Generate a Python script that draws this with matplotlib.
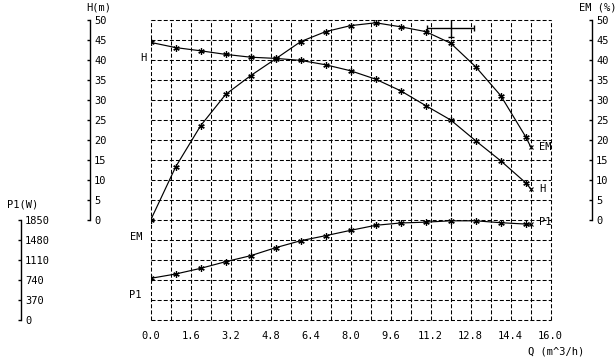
import numpy as np
import matplotlib
matplotlib.use("Agg")
import matplotlib.pyplot as plt

plt.rcParams['font.family'] = ['DejaVu Sans Mono']
plt.rcParams['font.size'] = 7.5
plt.rcParams['lines.scale_dashes'] = False

# ---- data ----
q = [0, 1, 2, 3, 4, 5, 6, 7, 8, 9, 10, 11, 12, 13, 14, 15, 15.2]
h = [44.4, 43.1, 42.3, 41.4, 40.7, 40.4, 39.9, 38.8, 37.3, 35.2, 32.3, 28.6, 25.0, 19.8, 14.8, 9.3, 7.8]
em = [0.0, 13.3, 23.6, 31.4, 36.1, 40.3, 44.6, 47.1, 48.6, 49.3, 48.3, 47.1, 44.2, 38.3, 31.1, 20.8, 18.3]
p1 = [771, 851, 956, 1079, 1190, 1338, 1467, 1560, 1659, 1752, 1795, 1810, 1835, 1835, 1800, 1775, 1770]
duty_q = [12.0]
duty_h = [48.1]
duty_qerr = [0.95]
duty_herr = [2.3]

q_ticks = [0.0, 1.6, 3.2, 4.8, 6.4, 8.0, 9.6, 11.2, 12.8, 14.4, 16.0]
h_ticks = [0, 5, 10, 15, 20, 25, 30, 35, 40, 45, 50]
em_ticks = [0, 5, 10, 15, 20, 25, 30, 35, 40, 45, 50]
p1_ticks = [0, 370, 740, 1110, 1480, 1850]

W, H = 616, 357
fig = plt.figure(figsize=(W / 100, H / 100), dpi=100)
fig.patch.set_facecolor('white')

x0, x1 = 150.7, 550.7
y0, y1 = 20, 320
ax = fig.add_axes([x0 / W, (H - y1) / H, (x1 - x0) / W, (y1 - y0) / H])
ax.set_facecolor('none')
ax.set_xlim(0, 16)
ax.set_ylim(-25, 50)
ax2 = ax.twinx()
ax3 = ax.twinx()

def px_to_axes(px):
    return (px - x0) / (x1 - x0)

# grid
dash = (0, (2.9, 1.5))
ax.vlines(np.arange(0, 16.01, 0.8), -25, 50, colors='black', linewidth=0.75,
          linestyles=[dash], zorder=1, clip_on=False)
ax.hlines(np.arange(-25, 50.01, 5), 0, 16, colors='black', linewidth=0.75,
          linestyles=[dash], zorder=1, clip_on=False)

for s in ax.spines.values():
    s.set_visible(False)

# x axis
ax.set_xticks(q_ticks)
ax.set_xticklabels([f"{v:.1f}" for v in q_ticks])
ax.tick_params(axis='x', length=0, pad=8)

# H axis (left, labels to right of line)
ax.yaxis.set_ticks_position('right')
ax.spines['right'].set_visible(True)
ax.spines['right'].set_position(('axes', px_to_axes(90)))
ax.spines['right'].set_bounds(0, 50)
ax.spines['right'].set_linewidth(1)
ax.set_yticks(h_ticks)
ax.set_yticklabels([str(v) for v in h_ticks])
ax.tick_params(axis='y', direction='in', length=2.5, width=1, pad=3,
               left=False, labelleft=False, right=True, labelright=True)

# EM axis (right)
ax2.set_facecolor('none')
ax2.set_ylim(-25, 50)
for s in ax2.spines.values():
    s.set_visible(False)
ax2.spines['right'].set_visible(True)
ax2.spines['right'].set_position(('axes', px_to_axes(592)))
ax2.spines['right'].set_bounds(0, 50)
ax2.spines['right'].set_linewidth(1)
ax2.set_yticks(em_ticks)
ax2.set_yticklabels([str(v) for v in em_ticks])
ax2.tick_params(axis='y', direction='in', length=2.5, width=1, pad=3)

# P1 axis (far left)
ax3.set_facecolor('none')
ax3.set_ylim(0, 5550)
for s in ax3.spines.values():
    s.set_visible(False)
ax3.spines['right'].set_visible(True)
ax3.spines['right'].set_position(('axes', px_to_axes(21)))
ax3.spines['right'].set_bounds(0, 1850)
ax3.spines['right'].set_linewidth(1)
ax3.set_yticks(p1_ticks)
ax3.set_yticklabels([str(v) for v in p1_ticks])
ax3.tick_params(axis='y', direction='in', length=2.5, width=1, pad=3)

star = (6, 2, 0)
line_kw = dict(color='black', linewidth=0.85, zorder=3)
mk_kw = dict(color='black', linestyle='none', marker=star, markersize=4.6,
             markeredgewidth=0.9, zorder=4)
end_kw = dict(color='black', linestyle='none', marker='x', markersize=2.8,
              markeredgewidth=0.8, zorder=4)

ax.plot(q, h, **line_kw)
ax.plot(q[:-1], h[:-1], **mk_kw)
ax.plot(q[-1:], h[-1:], **end_kw)

ax2.plot(q, em, **line_kw)
ax2.plot(q[:-1], em[:-1], **mk_kw)
ax2.plot(q[-1:], em[-1:], **end_kw)

ax3.plot(q, p1, **line_kw)
ax3.plot(q[:-1], p1[:-1], **mk_kw)
ax3.plot(q[-1:], p1[-1:], **end_kw)

ax.errorbar(duty_q, duty_h, xerr=duty_qerr, yerr=duty_herr, color='black',
            linewidth=1, capsize=2, capthick=1, fmt='none', zorder=5)

def ftext(px, py, s, ha='center'):
    fig.text(px / W, 1 - py / H, s, ha=ha, va='center', fontsize=7.5)

# axis titles
ftext(98.5, 7, "H(m)")
ftext(598, 7, "EM (%)")
ftext(22.5, 205, "P1(W)")
ftext(556, 352, "Q (m^3/h)")

# curve labels
ftext(143.3, 58, "H")
ftext(136, 236.5, "EM")
ftext(135.5, 295, "P1")
ftext(538.5, 147, "EM", ha='left')
ftext(539.5, 188.5, "H", ha='left')
ftext(538.5, 222, "P1", ha='left')

fig.savefig("out.png", dpi=100, facecolor='white')
